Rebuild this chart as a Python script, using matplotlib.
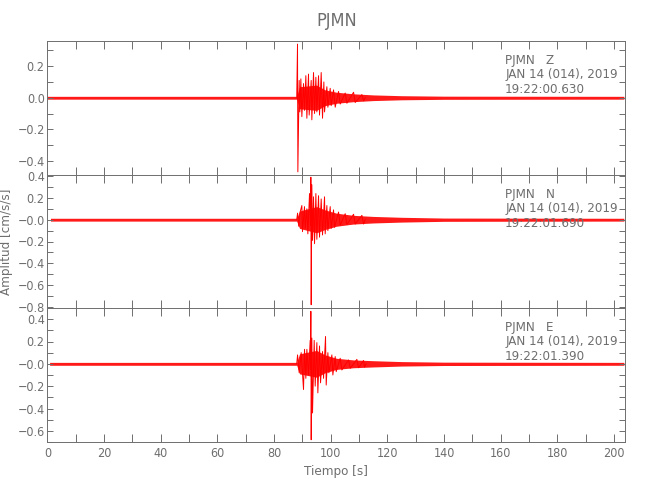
import numpy as np
import matplotlib.pyplot as plt
from matplotlib import font_manager
from matplotlib.ticker import MultipleLocator, FixedLocator, FixedFormatter

# estacion y componentes
estacion = "PJMN"
componentes = ["Z", "N", "E"]
fecha = "JAN 14 (014), 2019"
horas = ["19:22:00.630", "19:22:01.690", "19:22:01.390"]

# envolvente del ruido/coda (t, amplitud)
env_t = {
    "Z": [0.0, 88.0, 89.0, 95.0, 98.0, 102.0, 108.0, 115.0, 125.0, 140.0, 203.5],
    "N": [1.06, 88.0, 89.0, 95.0, 98.0, 102.0, 108.0, 115.0, 125.0, 140.0, 203.5],
    "E": [0.76, 88.0, 89.0, 95.0, 98.0, 102.0, 108.0, 115.0, 125.0, 140.0, 203.5],
}
env_a = {
    "Z": [0.009, 0.009, 0.07, 0.08, 0.05, 0.035, 0.025, 0.018, 0.013, 0.010, 0.009],
    "N": [0.013, 0.013, 0.08, 0.12, 0.09, 0.06, 0.04, 0.03, 0.022, 0.015, 0.013],
    "E": [0.013, 0.013, 0.09, 0.12, 0.08, 0.05, 0.035, 0.028, 0.02, 0.015, 0.013],
}

# picos (t, amplitud)
picos_t = {
    "Z": [88.0, 88.28, 88.40, 88.87, 89.1, 89.46, 89.81, 90.40, 90.75, 91.22, 91.58,
          92.16, 92.40, 93.11, 93.34, 93.93, 94.29, 94.76, 95.11, 95.70, 96.05,
          96.64, 97.11, 97.58, 97.82, 98.64, 99.00, 99.82, 100.17, 101.0, 101.59,
          102.77, 103.35, 105.12, 105.71, 108.07, 108.65, 111.01, 111.60, 112.2],
    "N": [88.0, 88.3, 88.7, 89.2, 89.81, 90.04, 90.75, 90.99, 91.58, 91.93, 92.52,
          92.87, 92.99, 93.11, 93.34, 93.58, 93.93, 94.29, 94.76, 95.11, 95.70,
          96.05, 96.64, 97.11, 97.82, 98.05, 98.64, 99.00, 99.82, 100.17, 101.0,
          101.35, 102.77, 103.35, 105.12, 105.71, 108.07, 108.65, 111.01, 111.60, 112.2],
    "E": [88.0, 88.3, 88.87, 89.57, 90.40, 90.75, 91.22, 91.58, 92.16, 92.75, 92.87,
          92.99, 93.11, 93.34, 93.58, 94.17, 94.52, 95.11, 95.46, 96.05, 96.41,
          97.11, 97.47, 98.17, 98.41, 99.00, 99.35, 100.41, 100.76, 101.59, 101.94,
          103.35, 103.94, 106.30, 106.89, 109.24, 109.83, 111.60, 111.95, 112.5],
}
picos_a = {
    "Z": [0.0, 0.34, -0.47, 0.11, -0.09, 0.12, -0.12, 0.09, -0.08, 0.14, -0.13,
          0.15, -0.11, 0.11, -0.14, 0.16, -0.10, 0.13, -0.09, 0.14, -0.11,
          0.16, -0.13, 0.10, -0.09, 0.07, -0.06, 0.06, -0.05, 0.05, -0.06,
          0.04, -0.04, 0.03, -0.035, 0.035, -0.03, 0.02, -0.02, 0.0],
    "N": [0.0, 0.06, -0.06, 0.07, 0.13, -0.11, 0.12, -0.08, 0.10, -0.13, 0.24,
          -0.05, 0.39, -0.78, 0.32, -0.19, 0.21, -0.22, 0.24, -0.18, 0.22,
          -0.16, 0.19, -0.14, 0.21, -0.13, 0.13, -0.10, 0.12, -0.08, 0.09,
          -0.07, 0.07, -0.05, 0.055, -0.045, 0.05, -0.04, 0.04, -0.04, 0.0],
    "E": [0.0, 0.08, -0.08, 0.10, -0.23, 0.13, -0.13, 0.13, -0.10, 0.21, -0.05,
          0.47, -0.68, 0.23, -0.44, 0.21, -0.20, 0.19, -0.26, 0.16, -0.17,
          0.11, -0.13, 0.245, -0.19, 0.10, -0.08, 0.08, -0.10, 0.065, -0.07,
          0.05, -0.055, 0.035, -0.04, 0.04, -0.035, 0.03, -0.03, 0.0],
}

# limites y etiquetas del eje y
ylims = [(-0.49, 0.36), (-0.81, 0.41), (-0.70, 0.50)]
ytick_vals = [[0.2, 0.0, -0.2, -0.4],
              [0.4, 0.2, 0.0, -0.2, -0.4, -0.6, -0.8],
              [0.4, 0.2, 0.0, -0.2, -0.4, -0.6]]
ytick_txt = [["0.2", "0.0", "\u22120.2", "\u22120.4"],
             ["0.4", "0.2", "\u22120.0", "\u22120.2", "\u22120.4", "\u22120.6", "\u22120.8"],
             ["0.4", "0.2", "\u22120.0", "\u22120.2", "\u22120.4", "\u22120.6"]]
xticks = list(range(0, 201, 20))

gris = "#6e6e6e"
plt.rcParams['font.family'] = ['DejaVu Sans']
plt.rcParams['font.stretch'] = 'condensed'
# si no hay version condensada, se reduce el tamaño
_f = font_manager.findfont(font_manager.FontProperties(family='DejaVu Sans', stretch='condensed'))
esc = 1.0 if 'Condensed' in _f else 0.85

fig = plt.figure(figsize=(6.5, 5), dpi=100)
posiciones = [[0.073, 0.650, 0.889, 0.268],
              [0.073, 0.384, 0.889, 0.266],
              [0.073, 0.116, 0.889, 0.268]]

for i, comp in enumerate(componentes):
    ax = fig.add_axes(posiciones[i])
    et = np.array(env_t[comp])
    ea = np.array(env_a[comp])
    ax.fill_between(et, -ea, ea, color="red", alpha=0.9, lw=0)
    ax.plot(picos_t[comp], picos_a[comp], color="red", lw=0.7)

    ax.set_xlim(0, 204)
    ax.set_ylim(*ylims[i])
    ax.xaxis.set_major_locator(MultipleLocator(20))
    ax.xaxis.set_minor_locator(MultipleLocator(10))
    ax.yaxis.set_major_locator(FixedLocator(ytick_vals[i]))
    ax.yaxis.set_major_formatter(FixedFormatter(ytick_txt[i]))
    ax.yaxis.set_minor_locator(MultipleLocator(0.1))
    ax.tick_params(which="both", direction="in", top=True, right=True,
                   color=gris, labelcolor=gris, labelsize=9 * esc, width=0.7)
    ax.tick_params(axis="x", which="both", length=5.5)
    ax.tick_params(axis="y", which="both", length=4.5, pad=2)
    for s in ax.spines.values():
        s.set_color(gris)
        s.set_linewidth(0.7)
    if i < 2:
        ax.set_xticklabels([])
    else:
        ax.set_xticks(xticks)
        ax.set_xticklabels([str(v) for v in xticks])
        ax.set_xlabel("Tiempo [s]", color=gris, fontsize=9.5 * esc, labelpad=4)
    if i == 1:
        ax.set_ylabel("Amplitud [cm/s/s]", color=gris, fontsize=9.5 * esc, labelpad=3)
    if i == 0:
        ax.set_title(estacion, color=gris, fontsize=13 * esc, pad=11)

    ax.text(0.792, 0.905, estacion + "   " + comp + "\n" + fecha + "\n" + horas[i],
            transform=ax.transAxes, ha="left", va="top", color=gris,
            fontsize=9.5 * esc, linespacing=1.15)

fig.savefig("out.png", dpi=100)
